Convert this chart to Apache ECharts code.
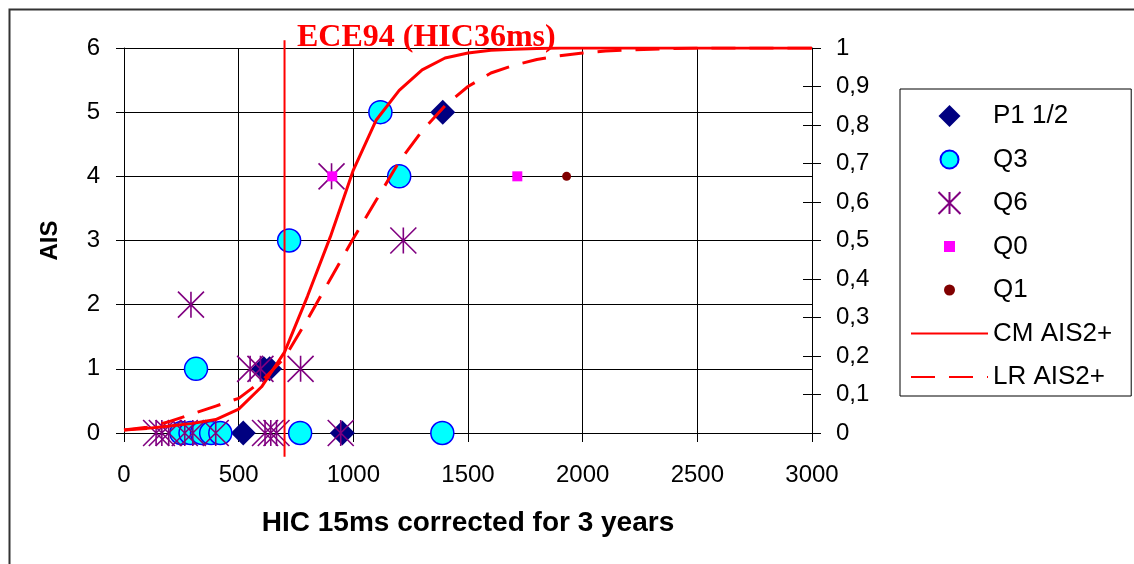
<!DOCTYPE html>
<html>
<head>
<meta charset="utf-8">
<script src="https://cdn.jsdelivr.net/npm/echarts@6/dist/echarts.min.js"></script>
<style>html,body{margin:0;padding:0;background:#fff}#c{width:1134px;height:564px}</style>
</head>
<body>
<div id="c"></div>
<script>
// ---- data ----
const xTicks = [0, 500, 1000, 1500, 2000, 2500, 3000];
const p1Data = [[1390, 5], [610, 1], [635, 1], [520, 0], [952, 0]];
const q3Data = [[1118, 5], [1200, 4], [720, 3], [314, 1], [250, 0], [290, 0], [340, 0], [380, 0], [420, 0], [768, 0], [1388, 0]];
const q6Data = [[292, 2], [905, 4], [1218, 3], [550, 1], [595, 1], [770, 1],
  [140, 0], [165, 0], [195, 0], [265, 0], [300, 0], [400, 0], [615, 0], [640, 0], [665, 0], [945, 0]];
const q0Data = [[908, 4], [1715, 4]];
const q1Data = [[1930, 4]];
const curveX = [0, 100, 200, 300, 400, 500, 600, 700, 800, 900, 1000, 1100, 1200, 1300, 1400, 1500, 1600, 1700, 1800, 1900, 2000, 2100, 2200, 2300, 2400, 2500, 3000];
const cmP = [0.008, 0.012, 0.018, 0.025, 0.035, 0.062, 0.12, 0.21, 0.355, 0.51, 0.683, 0.813, 0.89, 0.943, 0.974, 0.987, 0.994, 0.997, 0.999, 1, 1, 1, 1, 1, 1, 1, 1];
const lrP = [0.008, 0.015, 0.03, 0.05, 0.07, 0.09, 0.135, 0.195, 0.295, 0.4, 0.505, 0.605, 0.705, 0.785, 0.85, 0.9, 0.935, 0.955, 0.97, 0.98, 0.987, 0.992, 0.995, 0.997, 0.999, 1, 1];
const eceX = 700;
const eceY = [-0.37, 6.12];
const rightTickLabels = ['0', '0,1', '0,2', '0,3', '0,4', '0,5', '0,6', '0,7', '0,8', '0,9', '1'];

const FONT = 'Liberation Sans';
const starPath = 'path://M10,0L10,20M0,0L20,20M0,20L20,0';
const diamondLegend = 'path://M10,0L20,10L10,20L0,10Z';
const sqLegend = 'path://M0,0M20,20M5,5L15,5L15,15L5,15Z';
const dotLegend = 'path://M0,0M20,20M5,10A5,5,0,1,0,15,10A5,5,0,1,0,5,10Z';
const hidden = {opacity: 0};

const chart = echarts.init(document.getElementById('c'), null, {renderer: 'canvas'});
const option = {
  animation: false,
  backgroundColor: '#fff',
  graphic: [{
    type: 'rect', left: 7, top: 7, z: -10, silent: true,
    shape: {width: 1200, height: 620},
    style: {fill: 'none', stroke: '#333', lineWidth: 2}
  }],
  title: {
    text: 'ECE94 (HIC36ms)', left: 292, top: 17,
    textStyle: {fontFamily: 'Liberation Serif', fontWeight: 'bold', fontSize: 32, color: '#ff0000'}
  },
  grid: {left: 124, right: 322, top: 48, bottom: 131, containLabel: false},
  legend: {
    orient: 'vertical', left: 900, top: 89,
    padding: [14, 19, 6, 10],
    itemWidth: 77, itemHeight: 22, itemGap: 17.5,
    borderColor: '#000', borderWidth: 1,
    textStyle: {fontFamily: FONT, fontSize: 26, color: '#000'},
    data: [
      {name: 'P1 1/2', icon: diamondLegend},
      {name: 'Q3', icon: 'path://M0,0M22,22M2,11A9,9,0,1,0,20,11A9,9,0,1,0,2,11Z'},
      {name: 'Q6', icon: starPath},
      {name: 'Q0', icon: sqLegend},
      {name: 'Q1', icon: dotLegend},
      {name: 'CM AIS2+', itemStyle: hidden},
      {name: 'LR AIS2+', itemStyle: hidden}
    ]
  },
  xAxis: {
    type: 'value', min: 0, max: 3000, interval: 500,
    name: 'HIC 15ms corrected for 3 years', nameLocation: 'middle', nameGap: 76,
    nameTextStyle: {fontFamily: FONT, fontWeight: 'bold', fontSize: 28, color: '#000'},
    axisLine: {show: true, lineStyle: {color: '#000', width: 1}},
    axisTick: {show: true, length: 9, lineStyle: {color: '#000'}},
    axisLabel: {margin: 30, fontFamily: FONT, fontSize: 24, color: '#000',
      formatter: v => String(xTicks[xTicks.indexOf(v)])},
    splitLine: {show: true, lineStyle: {color: '#000', width: 1}}
  },
  yAxis: [{
    type: 'value', min: 0, max: 6, interval: 1, position: 'left',
    name: 'AIS', nameLocation: 'middle', nameGap: 62, nameRotate: 90,
    nameTextStyle: {fontFamily: FONT, fontWeight: 'bold', fontSize: 24, color: '#000'},
    axisLine: {show: true, lineStyle: {color: '#000', width: 1}},
    axisTick: {show: true, length: 8, lineStyle: {color: '#000'}},
    axisLabel: {margin: 24, fontFamily: FONT, fontSize: 24, color: '#000'},
    splitLine: {show: true, lineStyle: {color: '#000', width: 1}}
  }, {
    type: 'value', min: 0, max: 1, interval: 0.1, position: 'right',
    axisLine: {show: true, lineStyle: {color: '#000', width: 1}},
    axisTick: {show: true, length: 9, lineStyle: {color: '#000'}},
    axisLabel: {margin: 24, fontFamily: FONT, fontSize: 24, color: '#000',
      formatter: v => rightTickLabels[Math.round(v * 10)]},
    splitLine: {show: false}
  }, {
    type: 'value', min: 0, max: 6, interval: 1, position: 'left',
    axisLine: {show: false}, axisLabel: {show: false}, splitLine: {show: false},
    axisTick: {show: true, inside: true, length: 5, lineStyle: {color: '#000'}}
  }, {
    type: 'value', min: 0, max: 1, interval: 0.1, position: 'right',
    axisLine: {show: false}, axisLabel: {show: false}, splitLine: {show: false},
    axisTick: {show: true, inside: true, length: 9, lineStyle: {color: '#000'}}
  }],
  series: [
    {name: 'P1 1/2', type: 'scatter', data: p1Data, symbol: 'diamond', symbolSize: 25,
      itemStyle: {color: '#000080', opacity: 1}},
    {name: 'Q3', type: 'scatter', data: q3Data, symbol: 'circle', symbolSize: 23,
      itemStyle: {color: '#00ffff', borderColor: '#0000ff', borderWidth: 1.5, opacity: 1}},
    {name: 'Q6', type: 'scatter', data: q6Data, symbol: starPath, symbolSize: 26,
      itemStyle: {color: 'rgba(0,0,0,0)', borderColor: '#800080', borderWidth: 1.6, opacity: 1}},
    {name: 'Q0', type: 'scatter', data: q0Data, symbol: 'rect', symbolSize: 10,
      itemStyle: {color: '#ff00ff', opacity: 1}},
    {name: 'Q1', type: 'scatter', data: q1Data, symbol: 'circle', symbolSize: 9,
      itemStyle: {color: '#800000', opacity: 1}},
    {name: 'ECE94', type: 'line', data: eceY.map(y => [eceX, y]), symbol: 'none', clip: false,
      silent: true, lineStyle: {color: '#ff0000', width: 2}, itemStyle: {color: '#ff0000'}},
    {name: 'CM AIS2+', type: 'line', yAxisIndex: 1, data: curveX.map((x, i) => [x, cmP[i]]),
      symbol: 'none', lineStyle: {color: '#ff0000', width: 3}, itemStyle: {color: '#ff0000'}},
    {name: 'LR AIS2+', type: 'line', yAxisIndex: 1, data: curveX.map((x, i) => [x, lrP[i]]),
      symbol: 'none', lineStyle: {color: '#ff0000', width: 3, type: [24, 14]}, itemStyle: {color: '#ff0000'}}
  ]
};
chart.setOption(option);
</script>
</body>
</html>
